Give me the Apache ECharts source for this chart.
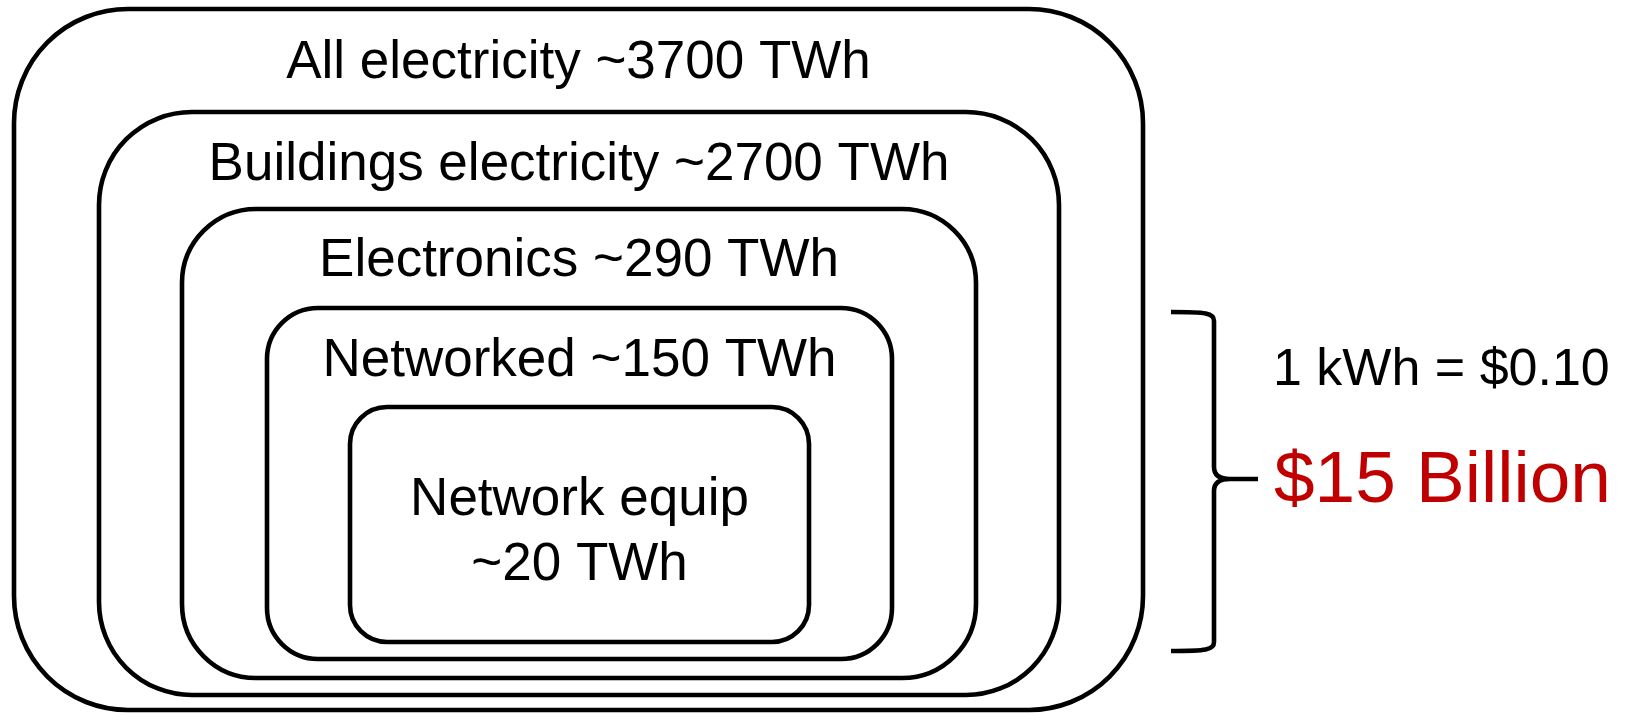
<!DOCTYPE html>
<html>
<head>
<meta charset="utf-8">
<script src="https://cdn.jsdelivr.net/npm/echarts@6/dist/echarts.min.js"></script>
<style>
  html, body { margin: 0; padding: 0; background: #ffffff; }
  #chart { width: 1629px; height: 713px; }
</style>
</head>
<body>
<div id="chart"></div>
<script>
// Nested scopes of electricity use, outermost first
const scopeNames = ['All electricity', 'Buildings electricity', 'Electronics', 'Networked', 'Network equip'];
const scopeTWh = [3700, 2700, 290, 150, 20];
// Electricity price for the cost estimate, $ per kWh
const pricePerKWh = 0.10;
// Scope that the brace prices out
const bracedIndex = 3;

// Layout, in plot units (x 0..1629 left to right, y 0..713 top to bottom)
const boxLeft = [14, 99, 182, 267, 350];
const boxTop = [9, 112, 209, 308, 407];
const boxRight = [1143, 1059, 976, 892, 809];
const boxBottom = [710, 695, 678, 659, 642];
const boxRadius = [114, 93, 74, 51, 37];
const labelBaselines = [[80], [182], [278], [378], [517, 582]];
const LABEL_SIZE = 53;
const LINE_W = 4.6;
const FONT = '"Liberation Sans", Arial, Helvetica, sans-serif';

// Brace and cost notes on the right
const brace = { x: 1214, armX: 1171, tipX: 1258, top: 312, mid: 479, bottom: 651 };
const priceNote = { x: 1273, baseline: 387, size: 52 };
const costNote = { x: 1274, baseline: 505, size: 73 };

// Label text for each scope; the innermost one wraps onto two lines
const labelLines = scopeNames.map((n, i) =>
  labelBaselines[i].length > 1 ? [n, '~' + scopeTWh[i] + ' TWh'] : [n + ' ~' + scopeTWh[i] + ' TWh']
);

// kWh in the braced scope times price, in billions of dollars
const costBillion = Math.round(scopeTWh[bracedIndex] * 1e9 * pricePerKWh / 1e9);
const priceText = '1 kWh = $' + pricePerKWh.toFixed(2);
const costText = '$' + costBillion + ' Billion';

const boxData = scopeNames.map((n, i) => [boxLeft[i], boxTop[i], boxRight[i], boxBottom[i], i]);

// Canvas "middle" sits about 0.31em above the alphabetic baseline for this face
function textY(api, baseline, size) {
  return api.coord([0, baseline])[1] - 0.31 * size;
}

function textEl(text, x, y, size, color, align) {
  return {
    type: 'text',
    style: {
      text: text, x: x, y: y,
      font: size + 'px ' + FONT,
      fill: color,
      align: align, textAlign: align,
      verticalAlign: 'middle', textVerticalAlign: 'middle'
    }
  };
}

function renderScope(params, api) {
  const i = api.value(4);
  const p0 = api.coord([api.value(0), api.value(1)]);
  const p1 = api.coord([api.value(2), api.value(3)]);
  const x = Math.min(p0[0], p1[0]);
  const y = Math.min(p0[1], p1[1]);
  const w = Math.abs(p1[0] - p0[0]);
  const h = Math.abs(p1[1] - p0[1]);
  const cx = x + w / 2;
  const children = [{
    type: 'rect',
    shape: { x: x, y: y, width: w, height: h, r: boxRadius[i] },
    style: { fill: 'none', stroke: '#000000', lineWidth: LINE_W }
  }];
  labelLines[i].forEach(function (t, k) {
    children.push(textEl(t, cx, textY(api, labelBaselines[i][k], LABEL_SIZE), LABEL_SIZE, '#000000', 'center'));
  });
  return { type: 'group', children: children };
}

function renderBrace(params, api) {
  const c = function (x, y) { const p = api.coord([x, y]); return p[0].toFixed(1) + ' ' + p[1].toFixed(1); };
  const b = brace;
  const path =
    'M ' + c(b.armX, b.top) +
    ' C ' + c(b.x - 8, b.top) + ', ' + c(b.x, b.top + 1) + ', ' + c(b.x, b.top + 9) +
    ' L ' + c(b.x, b.mid - 12) +
    ' Q ' + c(b.x, b.mid) + ' ' + c(b.x + 16, b.mid) +
    ' L ' + c(b.tipX, b.mid) +
    ' M ' + c(b.x + 16, b.mid) +
    ' Q ' + c(b.x, b.mid) + ' ' + c(b.x, b.mid + 12) +
    ' L ' + c(b.x, b.bottom - 9) +
    ' C ' + c(b.x, b.bottom - 1) + ', ' + c(b.x - 8, b.bottom) + ', ' + c(b.armX, b.bottom);
  return {
    type: 'group',
    children: [
      { type: 'path', shape: { pathData: path }, style: { fill: 'none', stroke: '#000000', lineWidth: LINE_W } },
      textEl(priceText, api.coord([priceNote.x, 0])[0], textY(api, priceNote.baseline, priceNote.size), priceNote.size, '#000000', 'left'),
      textEl(costText, api.coord([costNote.x, 0])[0], textY(api, costNote.baseline, costNote.size), costNote.size, '#C00000', 'left')
    ]
  };
}

const chart = echarts.init(document.getElementById('chart'), null, { renderer: 'canvas' });
chart.setOption({
  backgroundColor: '#ffffff',
  animation: false,
  grid: { left: 0, right: 0, top: 0, bottom: 0 },
  xAxis: { type: 'value', min: 0, max: 1629, show: false },
  yAxis: { type: 'value', min: 0, max: 713, inverse: true, show: false },
  series: [
    {
      type: 'custom',
      name: 'scopes',
      coordinateSystem: 'cartesian2d',
      clip: false,
      silent: true,
      renderItem: renderScope,
      encode: { x: [0, 2], y: [1, 3] },
      data: boxData
    },
    {
      type: 'custom',
      name: 'cost',
      coordinateSystem: 'cartesian2d',
      clip: false,
      silent: true,
      renderItem: renderBrace,
      encode: { x: 0, y: 1 },
      data: [[brace.x, brace.mid]]
    }
  ]
});
</script>
</body>
</html>
